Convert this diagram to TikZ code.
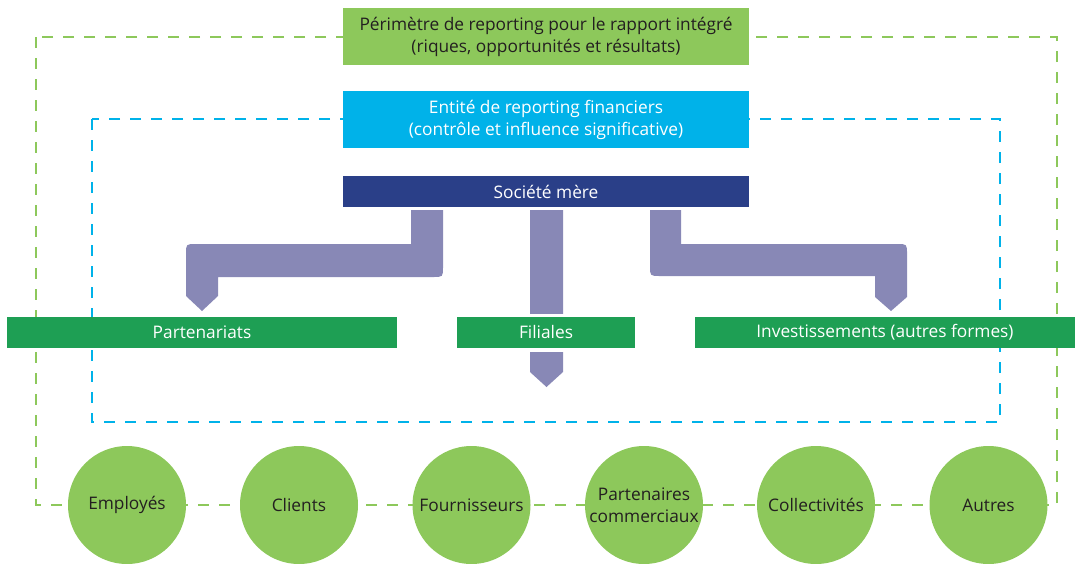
\documentclass[tikz,border=0pt]{standalone}
\usepackage{fontspec}
\setmainfont{Open Sans}
\usetikzlibrary{calc}
\definecolor{lightgreen}{HTML}{8DC85B}
\definecolor{skyblue}{HTML}{00B2E9}
\definecolor{navy}{HTML}{2A3F88}
\definecolor{bargreen}{HTML}{1E9F54}
\definecolor{arrowviolet}{HTML}{8888B6}
\definecolor{darktext}{HTML}{231F20}
\tikzset{
  scopebox/.style={inner sep=0pt, outer sep=0pt, minimum width=406pt, minimum height=57pt,
    align=center, font=\fontsize{17.3}{22}\selectfont},
  entitybar/.style={fill=bargreen, text=white, inner sep=0pt, outer sep=0pt, minimum height=31pt,
    font=\fontsize{17.3}{21}\selectfont},
  stakeholder/.style={circle, fill=lightgreen, text=darktext, minimum size=118pt, inner sep=0pt,
    align=center, font=\fontsize{17.3}{21.5}\selectfont},
  greendash/.style={draw=lightgreen, line width=2.8pt, dash pattern=on 11pt off 10pt},
  bluedash/.style={draw=skyblue, line width=2.8pt, dash pattern=on 11pt off 10pt},
  flowarrow/.style={fill=arrowviolet}
}
\begin{document}
\begin{tikzpicture}[x=1pt, y=-1pt]
\useasboundingbox (0,0) rectangle (1075,563);

% dashed reporting boundaries
\draw[greendash] (36,37) rectangle (1057,505);
\draw[bluedash] (92,119) rectangle (1000,422);

% scope headers
\node[scopebox, fill=lightgreen, text=darktext] (integre) at (546,36.5)
  {Périmètre de reporting pour le rapport intégré\\(riques, opportunités et résultats)};
\node[scopebox, fill=skyblue, text=white] (financier) at (546,119.5)
  {Entité de reporting financiers\\(contrôle et influence significative)};
\node[scopebox, fill=navy, text=white, minimum height=31pt] (mere) at (546,191.5) {Société mère};

% arrows from the parent company
\fill[flowarrow] (411,210) -- (443,210) -- (443,267) .. controls (443,277) .. (433,277)
  -- (218,277) -- (218,296) -- (202,311) -- (186,296) -- (186,254)
  .. controls (186,244) .. (196,244) -- (411,244) -- cycle;
\fill[flowarrow] (650,210) -- (681,210) -- (681,244) -- (897,244)
  .. controls (907,244) .. (907,254) -- (907,297) -- (891,311) -- (875,297)
  -- (875,276) -- (660,276) .. controls (650,276) .. (650,266) -- cycle;
\fill[flowarrow] (530,210) -- (563,210) -- (563,372) -- (546.5,387) -- (530,372) -- cycle;

% entity bars
\node[entitybar, minimum width=390pt] (partenariats) at (202,332.5) {Partenariats};
\node[entitybar, minimum width=380pt] (invest) at (885,332.5) {Investissements (autres formes)};
\fill[white] (457,313.5) rectangle (635,351.5);
\node[entitybar, minimum width=178pt] (filiales) at (546,332.5) {Filiales};

% stakeholders
\node[stakeholder] (employes) at (127,505) {Employés};
\node[stakeholder] (clients) at (299,505) {Clients};
\node[stakeholder] (fournisseurs) at (471.5,505) {Fournisseurs};
\node[stakeholder] (partenaires) at (644,505) {Partenaires\\commerciaux};
\node[stakeholder] (collectivites) at (816,505) {Collectivités};
\node[stakeholder] (autres) at (988.5,505) {Autres};
\end{tikzpicture}
\end{document}
